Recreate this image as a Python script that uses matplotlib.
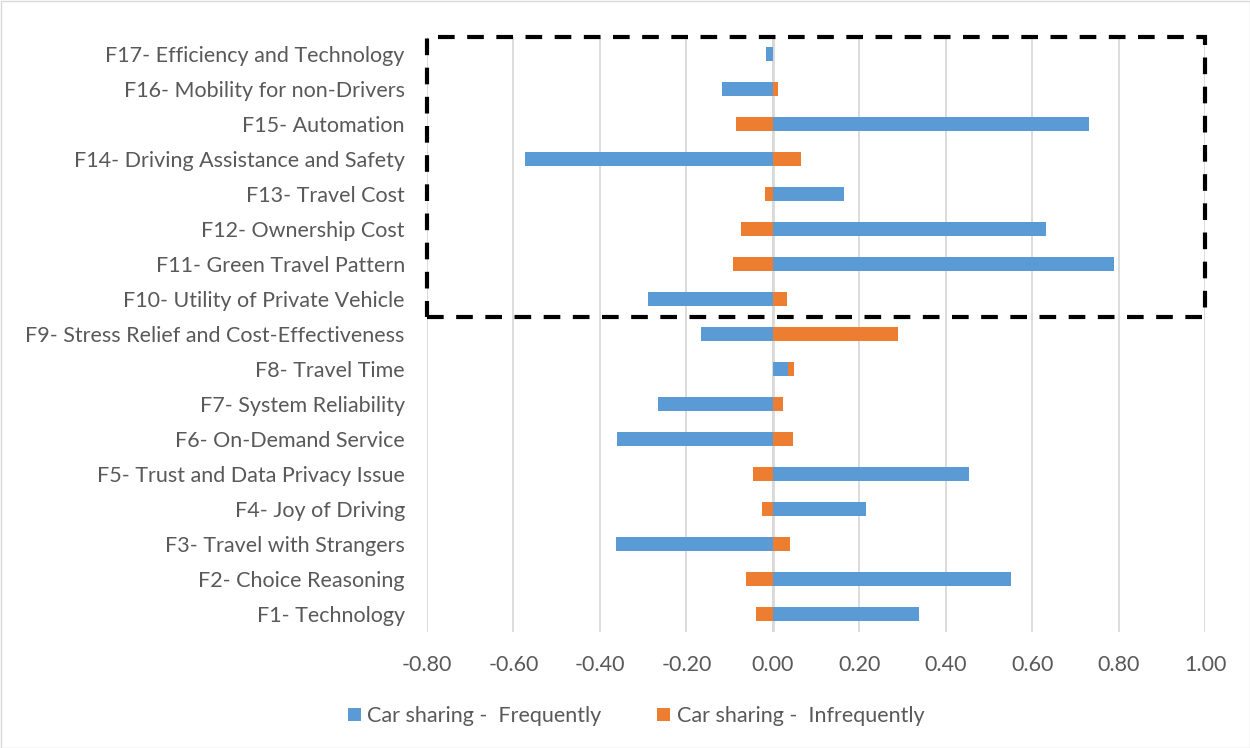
import numpy as np
import matplotlib.pyplot as plt
from matplotlib.patches import Rectangle

plt.rcParams['font.family'] = ['Liberation Sans Narrow', 'Lato', 'DejaVu Sans']

factors = ['F1- Technology', 'F2- Choice Reasoning', 'F3- Travel with Strangers',
           'F4- Joy of Driving', 'F5- Trust and Data Privacy Issue', 'F6- On-Demand Service',
           'F7- System Reliability', 'F8- Travel Time',
           'F9- Stress Relief and Cost-Effectiveness', 'F10- Utility of Private Vehicle',
           'F11- Green Travel Pattern', 'F12- Ownership Cost', 'F13- Travel Cost',
           'F14- Driving Assistance and Safety', 'F15- Automation',
           'F16- Mobility for non-Drivers', 'F17- Efficiency and Technology']
frequently = [0.339, 0.550, -0.362, 0.216, 0.453, -0.360, -0.266, 0.036,
              -0.166, -0.289, 0.790, 0.632, 0.164, -0.573, 0.732, -0.117, -0.015]
infrequently = [-0.038, -0.063, 0.041, -0.024, -0.045, 0.046, 0.023, 0.013,
                0.290, 0.034, -0.091, -0.073, -0.019, 0.066, -0.085, 0.013, 0.0]
series = ['Car sharing -  Frequently', 'Car sharing -  Infrequently']
colors = ['#5B9BD5', '#ED7D31']
xticks = np.round(np.arange(-0.8, 1.01, 0.2), 2)

fig = plt.figure(figsize=(12.5, 7.48), dpi=100)
ax = fig.add_axes([427/1250, 1 - 631.5/748, (1205 - 427)/1250, (631.5 - 36.5)/748])

y = np.arange(len(factors))
pos = np.zeros(len(factors))
neg = np.zeros(len(factors))
for vals, name, c in zip([frequently, infrequently], series, colors):
    vals = np.array(vals)
    left = np.where(vals >= 0, pos, neg)
    ax.barh(y, vals, left=left, height=0.4, color=c, label=name, zorder=3)
    pos += np.where(vals >= 0, vals, 0)
    neg += np.where(vals < 0, vals, 0)

ax.set_xlim(-0.8, 1.0)
ax.set_ylim(-0.5, len(factors) - 0.5)
ax.set_xticks(xticks)
ax.set_xticklabels(['%.2f' % (v + 0.0) for v in xticks])
ax.set_yticks(y)
ax.set_yticklabels(factors)
ax.grid(axis='x', color='#d9d9d9', linewidth=1.3, zorder=0)
ax.axvline(0, color='#d9d9d9', linewidth=2, zorder=2)
for s in ax.spines.values():
    s.set_visible(False)
ax.tick_params(axis='both', length=0, labelsize=15.5, labelcolor='#595959')
ax.tick_params(axis='y', pad=16)
ax.tick_params(axis='x', pad=17)

# dashed box around F10-F17
box = Rectangle((-0.8, 8.5), 1.8, 8.0, fill=False, edgecolor='black',
                linewidth=3, linestyle=(0, (4, 3)), clip_on=False, zorder=5)
ax.add_patch(box)

fig.legend(loc='center', bbox_to_anchor=(636/1250, 1 - 716/748), ncol=2,
           frameon=False, fontsize=15.5, handlelength=0.6, handleheight=0.6,
           handletextpad=0.3, columnspacing=2.6, labelcolor='#595959')

fig.patches.append(Rectangle((0.5/1250, 0.5/748), 1 - 1/1250, 1 - 1/748,
                             transform=fig.transFigure, fill=False,
                             edgecolor='#d9d9d9', linewidth=1))

fig.savefig('out.png', dpi=100)
